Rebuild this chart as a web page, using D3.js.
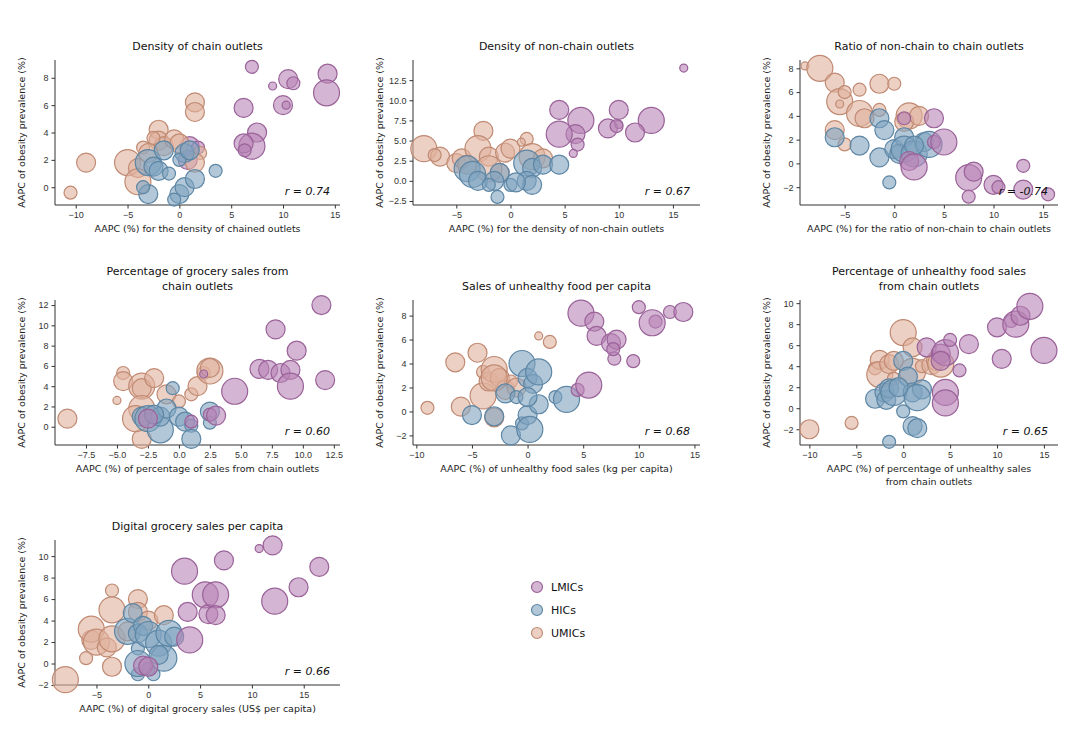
<!DOCTYPE html>
<html>
<head>
<meta charset="utf-8">
<script src="https://cdn.jsdelivr.net/npm/d3@7"></script>
<style>
  body { margin: 0; background: #fff; font-family: "DejaVu Sans", sans-serif; }
  .tick text { font-size: 9px; fill: #333; }
  .domain, .tick line { stroke: #333; }
</style>
</head>
<body>
<svg id="chart" width="1080" height="743"></svg>
<script>
// groups: L = LMICs, H = HICs, U = UMICs ; size: 1 xs .. 4 large
const groups = ['LMICs', 'HICs', 'UMICs']
const groupKey = {L: 'LMICs', H: 'HICs', U: 'UMICs'}

const titles = [
  ['Density of chain outlets'],
  ['Density of non-chain outlets'],
  ['Ratio of non-chain to chain outlets'],
  ['Percentage of grocery sales from', 'chain outlets'],
  ['Sales of unhealthy food per capita'],
  ['Percentage of unhealthy food sales', 'from chain outlets'],
  ['Digital grocery sales per capita']
]
const xLabels = [
  ['AAPC (%) for the density of chained outlets'],
  ['AAPC (%) for the density of non-chain outlets'],
  ['AAPC (%) for the ratio of non-chain to chain outlets'],
  ['AAPC (%) of percentage of sales from chain outlets'],
  ['AAPC (%) of unhealthy food sales (kg per capita)'],
  ['AAPC (%) of percentage of unhealthy sales', 'from chain outlets'],
  ['AAPC (%) of digital grocery sales (US$ per capita)']
]
const rValues = ['r = 0.74', 'r = 0.67', 'r = -0.74', 'r = 0.60', 'r = 0.68', 'r = 0.65', 'r = 0.66']
const xDomains = [[-12, 15.5], [-9, 17.5], [-9.5, 16.5], [-10, 13], [-10.3, 15.5], [-11, 16.5], [-9, 18.5]]
const yDomains = [[-1.3, 9.3], [-3, 15], [-3.5, 8.7], [-1.8, 12.5], [-2.8, 9.3], [-3.5, 10.3], [-2, 11.5]]
const xTicks = [
  [-10, -5, 0, 5, 10, 15], [-5, 0, 5, 10, 15], [-5, 0, 5, 10, 15],
  [-7.5, -5, -2.5, 0, 2.5, 5, 7.5, 10, 12.5], [-10, -5, 0, 5, 10, 15],
  [-10, -5, 0, 5, 10, 15], [-5, 0, 5, 10, 15]
]
const yTicks = [
  [0, 2, 4, 6, 8], [-2.5, 0, 2.5, 5, 7.5, 10, 12.5], [-2, 0, 2, 4, 6, 8],
  [0, 2, 4, 6, 8, 10, 12], [-2, 0, 2, 4, 6, 8], [-2, 0, 2, 4, 6, 8, 10], [-2, 0, 2, 4, 6, 8, 10]
]

const points1 = [
  [7,8.8,2,'L'],[9,7.4,1,'L'],[10.5,7.9,3,'L'],[11,7.6,2,'L'],[14.3,8.3,3,'L'],[14.2,6.9,4,'L'],[10,6,3,'L'],[10.3,6,1,'L'],
  [6.2,5.8,3,'L'],[7.5,4,3,'L'],[7,3,4,'L'],[6.2,3.2,3,'L'],[6.3,2.7,2,'L'],[1,3,3,'L'],[1.8,2.9,2,'L'],[0.8,2,3,'L'],
  [-10.5,-0.4,2,'U'],[-9,1.8,3,'U'],[-5,1.8,4,'U'],[-4,1.4,3,'U'],[-4,0.4,4,'U'],[-3.5,2.9,2,'U'],[-2,4.2,3,'U'],[-2,3.4,3,'U'],
  [-1.5,3,3,'U'],[-2.5,3.6,2,'U'],[-0.5,3.5,3,'U'],[0,3.2,3,'U'],[1.5,6.2,3,'U'],[1.5,5.5,3,'U'],[2,2.5,2,'U'],[1.5,1.8,3,'U'],[-3,2.5,3,'U'],
  [-3,1.8,4,'H'],[-2.5,1.5,3,'H'],[-3,-0.5,3,'H'],[-2,1.2,3,'H'],[0,-0.5,3,'H'],[0.5,0,3,'H'],[-0.5,-0.9,2,'H'],[1.5,0.6,3,'H'],
  [3.5,1.2,2,'H'],[0.5,2.5,3,'H'],[-1.5,2.7,3,'H'],[-1,1,2,'H'],[-3.5,0,2,'H'],[0,2,2,'H'],[1,2.7,3,'H']
]
const points2 = [
  [-8,4,4,'U'],[-6.5,3,3,'U'],[-7,3.2,2,'U'],[-5,2.2,3,'U'],[-4.5,2.8,3,'U'],[-2.5,6.2,3,'U'],[-3,4,4,'U'],[-2,3,3,'U'],
  [-0.5,3.5,3,'U'],[0,4,3,'U'],[1.5,5.2,2,'U'],[1,4.8,1,'U'],[2,3,4,'U'],[3,2.8,3,'U'],[-1,1,3,'U'],[-4,2,3,'U'],[-2,1.5,4,'U'],
  [-4,1.5,4,'H'],[-3.5,0.8,4,'H'],[-3,0,3,'H'],[-1,1,3,'H'],[-1.5,0,3,'H'],[0,-0.5,2,'H'],[1.5,2.2,4,'H'],[2,1.6,3,'H'],
  [1.5,0,3,'H'],[2,-0.5,3,'H'],[3,2,3,'H'],[4.5,2,3,'H'],[-1.2,-2,2,'H'],[0.5,-0.2,3,'H'],[-2,-0.5,2,'H'],
  [16,14,1,'L'],[4.5,8.8,3,'L'],[10,8.8,3,'L'],[6.5,7.5,4,'L'],[13,7.5,4,'L'],[9,6.5,3,'L'],[11.5,6,3,'L'],[6,5.8,3,'L'],
  [4.5,5.8,4,'L'],[6.2,4.5,2,'L'],[5.8,3.4,1,'L'],[10,7,1,'L'],[9.8,6.8,2,'L']
]
const points3 = [
  [-9,8.2,1,'U'],[-7.5,8,4,'U'],[-6,6.8,3,'U'],[-5.5,5.2,4,'U'],[-5,6,2,'U'],[-5.5,5,1,'U'],[-3.5,4.2,4,'U'],[-3,3.8,3,'U'],
  [-3.5,6.2,2,'U'],[-1.5,6.7,3,'U'],[0,6.7,2,'U'],[-6,2.8,3,'U'],[-5,1.6,2,'U'],[-1.5,4.5,2,'U'],[1.5,4,4,'U'],[1,3.5,3,'U'],[2.5,4,3,'U'],
  [-6,2.2,3,'H'],[-3.5,1.5,3,'H'],[-1.5,3.8,3,'H'],[-1,2.8,3,'H'],[-1.5,0.5,3,'H'],[-0.5,-1.6,2,'H'],[0,1.2,3,'H'],[1,2.2,3,'H'],
  [0.5,0.8,3,'H'],[1,1.2,4,'H'],[2,0.8,4,'H'],[3,1.8,3,'H'],[3.5,1.6,4,'H'],[2,1.5,3,'H'],
  [1,3.8,2,'L'],[1.5,0.2,3,'L'],[2,-0.3,4,'L'],[4,3.8,3,'L'],[4,1.8,2,'L'],[5,1.8,4,'L'],[7.5,-1.2,4,'L'],[8,-0.7,3,'L'],
  [7.5,-2.8,2,'L'],[10,-1.8,3,'L'],[10.5,-2,2,'L'],[13,-0.2,2,'L'],[13,-2.2,3,'L'],[15.5,-2.6,2,'L']
]
const points4 = [
  [-9,0.8,3,'U'],[-5,2.6,1,'U'],[-4.5,5.3,2,'U'],[-4.5,4.5,3,'U'],[-3,4,4,'U'],[-3,3.8,3,'U'],[-3,1.8,4,'U'],[-3,-1.2,3,'U'],
  [-2,4.8,3,'U'],[-1,3.2,3,'U'],[1,3.2,2,'U'],[1.5,4,3,'U'],[2,5.3,2,'U'],[2.5,5.5,4,'U'],[2.5,5.8,3,'U'],[-3.5,0.8,4,'U'],[0,2.5,2,'U'],
  [-3,1,3,'H'],[-2.5,0.8,4,'H'],[-1.5,-0.3,4,'H'],[-1.5,1,3,'H'],[-1,1.8,3,'H'],[-0.5,3.8,2,'H'],[0,1,3,'H'],[0.5,0.5,3,'H'],
  [1,0.1,2,'H'],[1,-1.2,3,'H'],[2.5,0.4,2,'H'],[2.5,1.5,3,'H'],[-2,1.2,3,'H'],
  [-2.5,0.8,3,'L'],[1,0.5,2,'L'],[2.5,1.2,2,'L'],[3,1.1,3,'L'],[4.5,3.5,4,'L'],[6.5,5.7,3,'L'],[7.2,5.6,3,'L'],[7.8,9.6,3,'L'],
  [8.2,5.3,3,'L'],[9,5.6,3,'L'],[9,4,4,'L'],[9.5,7.5,3,'L'],[11.5,12,3,'L'],[11.8,4.6,3,'L'],[2,5.2,1,'L']
]
const points5 = [
  [-9,0.3,2,'U'],[-6.5,4.1,3,'U'],[-6,0.4,3,'U'],[-4.5,4.9,3,'U'],[-4,3.3,2,'U'],[-4,1.3,4,'U'],[-3.5,2.5,3,'U'],[-3,3.5,4,'U'],
  [-3,-0.5,3,'U'],[-2.5,2.8,3,'U'],[-2,1.8,3,'U'],[-1.5,2.5,2,'U'],[-1,2,3,'U'],[1,6.3,1,'U'],[2,5.8,2,'U'],[-3,2.8,4,'U'],
  [-5,-0.3,3,'H'],[-3,-0.4,3,'H'],[-2,1.5,3,'H'],[-1.5,-2,3,'H'],[-1,1.2,2,'H'],[-0.5,4,4,'H'],[-0.5,-1,2,'H'],[0,-0.3,3,'H'],
  [0,2.8,3,'H'],[0.5,2.3,3,'H'],[0.2,-1.5,4,'H'],[1,3.3,4,'H'],[1,0.6,3,'H'],[2.5,1.2,2,'H'],[3.5,1,4,'H'],[0,1.2,3,'H'],
  [4.5,1.8,2,'L'],[4.8,8.2,4,'L'],[5.5,2.2,4,'L'],[6,7.5,3,'L'],[6.2,6.3,3,'L'],[7.5,5.7,3,'L'],[7.8,4.4,2,'L'],[8,6,3,'L'],
  [9.5,4.2,2,'L'],[10,8.7,2,'L'],[11.5,7.5,2,'L'],[11.2,7.4,4,'L'],[12.8,8.3,2,'L'],[14,8.3,3,'L'],[7.7,5.2,2,'L']
]
const points6 = [
  [-10,-2,3,'U'],[-5.5,-1.4,2,'U'],[-3,3.8,2,'U'],[-2.5,4.6,3,'U'],[-2.5,3.2,4,'U'],[-1.5,4.2,3,'U'],[-1,4.5,3,'U'],[0,7.2,4,'U'],
  [1,5.8,3,'U'],[1,3.5,4,'U'],[2,4,2,'U'],[3,4.1,3,'U'],[3.5,4.5,3,'U'],[4,4.2,4,'U'],[-1,2.8,2,'U'],
  [-3,0.9,3,'H'],[-2,1.5,3,'H'],[-1.8,0.8,3,'H'],[-1.5,1.9,3,'H'],[-1.5,-3.2,2,'H'],[-1,1.5,4,'H'],[0,4.5,3,'H'],[0,-0.3,2,'H'],
  [0.5,3,3,'H'],[1,1.5,3,'H'],[1,-1.7,3,'H'],[1.5,-1.9,3,'H'],[2,1.8,3,'H'],[1.5,1,4,'H'],[-0.5,2,3,'H'],
  [2.5,5.8,3,'L'],[4,5.2,3,'L'],[4.5,5.3,4,'L'],[4.5,1.5,4,'L'],[4.5,0.5,4,'L'],[5,6.5,2,'L'],[6,3.6,2,'L'],[7,6.1,3,'L'],
  [10,7.7,3,'L'],[10.5,4.7,3,'L'],[11.5,8.3,2,'L'],[12,8,4,'L'],[12.5,8.8,3,'L'],[13.5,9.7,4,'L'],[15,5.5,4,'L'],[4,4.5,3,'L']
]
const points7 = [
  [-8,-1.5,4,'U'],[-6,0.5,2,'U'],[-5.5,2.2,3,'U'],[-5.5,3.2,4,'U'],[-5,2,4,'U'],[-4,1.5,3,'U'],[-3.5,6.8,2,'U'],[-3.5,5,4,'U'],
  [-3.5,2.3,4,'U'],[-3.5,-0.3,3,'U'],[-1,6,3,'U'],[-1,4.8,3,'U'],[0,4,3,'U'],[1.5,4.5,3,'U'],[-2,3,3,'U'],
  [-2,3,4,'H'],[-1.5,4.7,3,'H'],[-1,2.8,3,'H'],[-1,1.4,2,'H'],[-1,-1,2,'H'],[-0.5,3.5,3,'H'],[0,2.7,4,'H'],[0,-0.5,2,'H'],
  [1,1.9,4,'H'],[1.5,0.5,4,'H'],[2,2.8,4,'H'],[2.5,2.5,3,'H'],[-1,0,4,'H'],[0.5,-1,2,'H'],[1,0.8,3,'H'],
  [-0.5,-0.2,3,'L'],[0,-0.3,3,'L'],[3.5,8.6,4,'L'],[3.8,4.8,3,'L'],[4,2.2,4,'L'],[5.5,6.4,4,'L'],[5.8,4.6,3,'L'],[6.5,6.4,4,'L'],
  [6.5,4.5,3,'L'],[7.3,9.6,3,'L'],[10.7,10.7,1,'L'],[12,11,3,'L'],[12.2,5.8,4,'L'],[14.5,7.1,3,'L'],[16.5,9,3,'L']
]
const allPoints = [points1, points2, points3, points4, points5, points6, points7]

const fills = {LMICs: '#b784b6', HICs: '#7ea3bf', UMICs: '#e0b19c'}
const strokes = {LMICs: '#9a6299', HICs: '#5d86a5', UMICs: '#c08a73'}
const radius = d3.scaleOrdinal().domain([1, 2, 3, 4]).range([4, 6.5, 9.5, 13])

const colX = [[55, 340], [413, 700], [800, 1058]]
const rowY = [[60, 205], [300, 445], [540, 685]]

const svg = d3.select('#chart')

allPoints.forEach((pts, i) => {
  const [x0, x1] = colX[i % 3]
  const [y0, y1] = rowY[Math.floor(i / 3)]
  const g = svg.append('g')
  const x = d3.scaleLinear().domain(xDomains[i]).range([x0, x1])
  const y = d3.scaleLinear().domain(yDomains[i]).range([y1, y0])
  const xFmt = i === 1 || i === 3 ? d3.format('.1f') : d3.format('d')
  const yFmt = i === 1 ? d3.format('.1f') : d3.format('d')

  g.append('g').attr('transform', `translate(0,${y1})`)
    .call(d3.axisBottom(x).tickValues(xTicks[i]).tickSize(3.5).tickFormat(i === 1 ? d3.format('d') : xFmt))
  g.append('g').attr('transform', `translate(${x0},0)`)
    .call(d3.axisLeft(y).tickValues(yTicks[i]).tickSize(3.5).tickFormat(yFmt))
  g.selectAll('.domain').attr('d', function () {
    return d3.select(this.parentNode).attr('transform').includes(`,${y1}`)
      ? `M${x0},0H${x1}` : `M0,${y0}V${y1}`
  })

  g.selectAll('circle').data(pts).enter().append('circle')
    .attr('cx', d => x(d[0])).attr('cy', d => y(d[1])).attr('r', d => radius(d[2]))
    .attr('fill', d => fills[groupKey[d[3]]]).attr('fill-opacity', 0.6)
    .attr('stroke', d => strokes[groupKey[d[3]]]).attr('stroke-width', 1.2)

  const cx = (x0 + x1) / 2
  titles[i].forEach((t, k) => {
    g.append('text').attr('x', cx).attr('y', y0 - 10 - (titles[i].length - 1 - k) * 15)
      .attr('text-anchor', 'middle').attr('font-size', 11).attr('fill', '#111').text(t)
  })
  xLabels[i].forEach((t, k) => {
    g.append('text').attr('x', cx).attr('y', y1 + 27 + k * 13)
      .attr('text-anchor', 'middle').attr('font-size', 9.5).attr('fill', '#222').text(t)
  })
  g.append('text').attr('transform', `translate(${x0 - 30},${(y0 + y1) / 2}) rotate(-90)`)
    .attr('text-anchor', 'middle').attr('font-size', 9.5).attr('fill', '#222')
    .text('AAPC of obesity prevalence (%)')
  g.append('text').attr('x', x1 - 10).attr('y', y1 - 10).attr('text-anchor', 'end')
    .attr('font-size', 11).attr('font-style', 'italic').attr('fill', '#111').text(rValues[i])
})

const legend = svg.append('g').attr('transform', 'translate(537,587)')
groups.forEach((grp, k) => {
  legend.append('circle').attr('cx', 0).attr('cy', k * 23).attr('r', 5.5)
    .attr('fill', fills[grp]).attr('fill-opacity', 0.6).attr('stroke', strokes[grp]).attr('stroke-width', 1.2)
  legend.append('text').attr('x', 14).attr('y', k * 23 + 4).attr('font-size', 11).attr('fill', '#111').text(grp)
})
</script>
</body>
</html>
